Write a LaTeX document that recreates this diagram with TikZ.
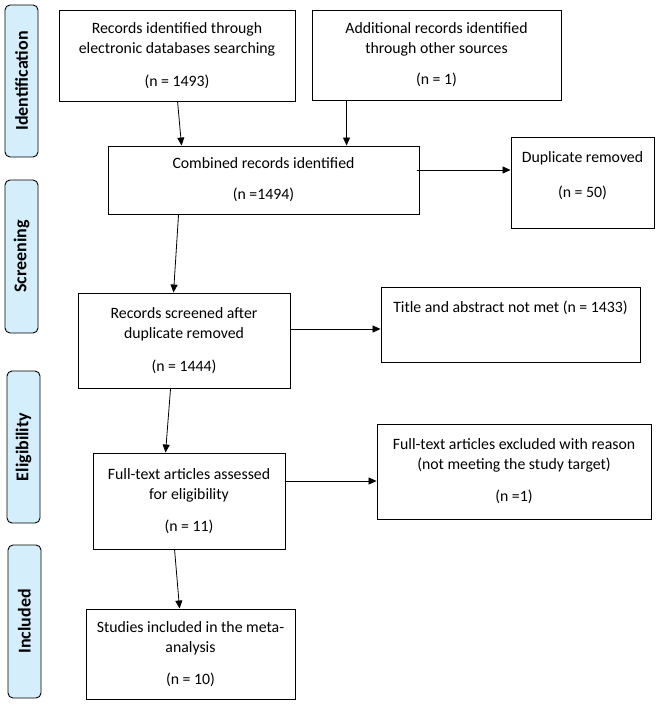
\documentclass[tikz,border=0pt]{standalone}
\usepackage{fontspec}
\setmainfont{Carlito}
\usetikzlibrary{arrows.meta}
\definecolor{sidefill}{HTML}{D4EEFC}
\tikzset{
  box/.style={draw=black, line width=0.9pt, inner sep=0pt, align=center,
    font=\fontsize{15.8}{20}\selectfont},
  boxtext/.style={inner sep=0pt, align=center, font=\fontsize{15.8}{20}\selectfont},
  side/.style={draw=black, line width=0.9pt, fill=sidefill, rounded corners=5pt,
    minimum width=33pt, minimum height=152pt, inner sep=0pt},
  sidetext/.style={rotate=90, font=\fontsize{18}{21}\selectfont\bfseries},
  arr/.style={draw=black, line width=0.8pt, -{Triangle[length=8pt,width=7pt]}},
}
\begin{document}
\begin{tikzpicture}[x=1pt,y=-1pt]
\useasboundingbox (0,0) rectangle (661,704);
% side labels
\node[side] (s1) at (21.5,81) {};
\node[sidetext] (t1) at (s1.center) {Identification};
\node[side, minimum height=153pt] (s2) at (21.5,256.5) {};
\node[sidetext] (t2) at (s2.center) {Screening};
\node[side] (s3) at (23.5,447) {};
\node[sidetext] (t3) at (s3.center) {Eligibility};
\node[side, minimum height=153pt] (s4) at (24.5,621.5) {};
\node[sidetext] (t4) at (s4.center) {Included};
% boxes
\node[box, minimum width=236pt, minimum height=91pt] (b1) at (177,55.5)
  {Records identified through\\electronic databases searching\\[13pt](n = 1493)};
\node[box, minimum width=249pt, minimum height=90pt] (b2) at (436.5,55)
  {Additional records identified\\through other sources\\[11pt](n = 1)};
\node[box, minimum width=311pt, minimum height=68pt] (b3) at (263.5,180)
  {Combined records identified\\[11pt](n =1494)};
\node[box, minimum width=143pt, minimum height=91pt] (b4) at (582.5,182.5) {};
\node[boxtext] (b4t) at (582.5,175.5)
  {Duplicate removed\\[15pt](n = 50)};
\node[box, minimum width=259pt, minimum height=75pt] (b6) at (510.5,324.5) {};
\node[boxtext] (b6t) at (510.5,308) {Title and abstract not met (n = 1433)};
\node[box, minimum width=212pt, minimum height=95pt] (b5) at (184,340.5)
  {Records screened after\\duplicate removed\\[13pt](n = 1444)};
\node[box, minimum width=192pt, minimum height=96pt] (b7) at (189,501)
  {Full-text articles assessed\\for eligibility\\[12pt](n = 11)};
\node[box, minimum width=274pt, minimum height=95pt] (b8) at (514,471.5)
  {Full-text articles excluded with reason\\(not meeting the study target)\\[12pt](n =1)};
\node[box, minimum width=209pt, minimum height=90pt] (b9) at (190.5,654)
  {Studies included in the meta-\\analysis\\[12pt](n = 10)};
% arrows
\draw[arr] ([xshift=119pt]b1.south west) -- ([xshift=74pt]b3.north west);
\draw[arr] ([xshift=35pt]b2.south west) -- ([xshift=239pt]b3.north west);
\draw[arr] ([yshift=10pt,xshift=-2pt]b3.east) -- ([yshift=10pt]b3.east -| b4.west);
\draw[arr] ([xshift=71pt]b3.south west) -- ([xshift=96pt]b5.north west);
\draw[arr] ([yshift=11.5pt]b5.east) -- ([yshift=11.5pt]b5.east -| b6.west);
\draw[arr] ([xshift=93pt]b5.south west) -- ([xshift=73pt]b7.north west);
\draw[arr] ([yshift=20pt]b7.east) -- ([yshift=20pt]b7.east -| b8.west);
\draw[arr] ([xshift=82pt]b7.south west) -- ([xshift=94pt]b9.north west);
\end{tikzpicture}
\end{document}
